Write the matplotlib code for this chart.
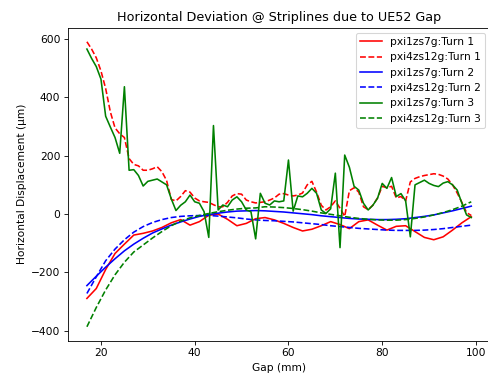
import matplotlib
matplotlib.use("Agg")
import matplotlib.pyplot as plt
import numpy as np

# gap scan, 1 mm steps for the noisy turn-3 / 4zs12g data, 2 mm for the smooth fits
gap = np.arange(17, 100)
gap2 = np.arange(17, 100, 2)

# Turn 1
t1_1zs7g = [-289, -255, -190, -135, -103, -72, -66, -58, -46, -30, -19, -38, -26, -4,
            0, -18, -40, -32, -16, -12, -20, -32, -46, -58, -52, -40, -26, -36, -50,
            -26, -20, -38, -55, -42, -40, -60, -80, -88, -78, -55, -30, -9]
t1_4zs12g = [590, 565, 535, 490, 430, 350, 295, 275, 262, 190, 170, 165, 150, 150, 155,
             162, 145, 115, 50, 45, 60, 80, 75, 55, 45, 42, 40, 32, 25, 25, 40, 62, 70,
             68, 48, 42, 38, 40, 42, 48, 55, 68, 70, 65, 62, 65, 72, 100, 112, 75, 30,
             14, 25, 45, 20, -8, 80, 90, 75, 25, 15, 30, 55, 95, 90, 95, 55, 60, 45,
             110, 122, 128, 132, 135, 138, 136, 130, 120, 100, 72, 40, 5, -5]

# Turn 2
t2_1zs7g = [-245, -213, -182, -153, -126, -103, -83, -65, -51, -38, -27, -17, -8, -2,
            3, 7, 10, 11, 12, 11, 9, 7, 4, 1, -2, -6, -9, -12, -15, -17, -18, -19, -19,
            -18, -16, -12, -8, -3, 4, 11, 19, 27]
t2_4zs12g = [-272, -215, -160, -120, -88, -62, -43, -29, -19, -12, -8, -6, -5, -5, -7,
             -10, -13, -17, -20, -22, -23, -25, -27, -30, -33, -36, -40, -43, -46, -49,
             -51, -53, -55, -56, -56, -56, -55, -53, -50, -46, -42, -38]

# Turn 3
t3_1zs7g = [565, 533, 505, 462, 335, 298, 262, 208, 436, 150, 152, 132, 96, 112, 116,
            120, 110, 100, 52, 12, 30, 42, 65, 42, 37, 8, -80, 303, 14, 31, 25, 48, 59,
            42, 14, 8, -85, 71, 37, 31, 45, 42, 45, 185, 10, 62, 59, 71, 88, 71, 14, 2,
            18, 140, -115, 202, 160, 95, 82, 37, 14, 30, 54, 105, 88, 125, 60, 70, 45,
            -78, 100, 108, 116, 105, 98, 94, 106, 111, 100, 82, 37, -3, -12]
t3_4zs12g = [-386, -320, -260, -208, -165, -130, -106, -82, -60, -40, -24, -13, -5, 2,
             8, 13, 17, 20, 21, 25, 24, 22, 19, 15, 10, 4, -1, -6, -11, -15, -18, -20,
             -21, -21, -19, -15, -10, -3, 5, 15, 27, 42]

fig = plt.figure(figsize=(6.4, 380 / 76.25), dpi=76.25)
ax = fig.add_axes([0.1387, 0.1026, 0.8664, 0.825])

ax.plot(gap2, t1_1zs7g, "r-", label="pxi1zs7g:Turn 1")
ax.plot(gap, t1_4zs12g, "r--", label="pxi4zs12g:Turn 1")
ax.plot(gap2, t2_1zs7g, "b-", label="pxi1zs7g:Turn 2")
ax.plot(gap2, t2_4zs12g, "b--", label="pxi4zs12g:Turn 2")
ax.plot(gap, t3_1zs7g, "g-", label="pxi1zs7g:Turn 3")
ax.plot(gap2, t3_4zs12g, "g--", label="pxi4zs12g:Turn 3")

ax.set_title("Horizontal Deviation @ Striplines due to UE52 Gap")
ax.set_xlabel("Gap (mm)")
ax.set_ylabel("Horizontal Displacement (µm)")
ax.legend(loc="upper right")

fig.savefig("out.png", dpi=76.25)
